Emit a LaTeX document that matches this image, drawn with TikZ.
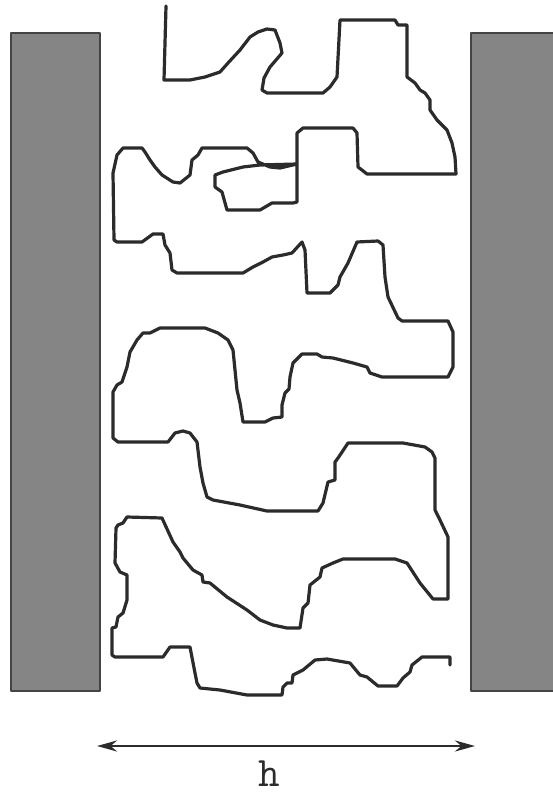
\documentclass[tikz,border=0pt]{standalone}
\usepackage{tikz}
\usetikzlibrary{arrows.meta,positioning}
\definecolor{slitInk}{HTML}{2B2B2B}
\definecolor{slitWall}{HTML}{858585}
\definecolor{slitEdge}{HTML}{444444}
\tikzset{
  slit diagram/.style={x=1pt,y=-1pt, line cap=round, line join=round},
  slit wall/.style={fill=slitWall, draw=slitEdge, line width=1.8pt},
  slit chain/.style={draw=slitInk, line width=3.2pt},
  slit arrow/.style={{Stealth[length=20pt,width=11pt]}-{Stealth[length=20pt,width=11pt]},
    draw=slitInk, line width=2.8pt},
  slit label/.style={font=\fontsize{42}{42}\selectfont\ttfamily, text=slitInk, inner sep=0pt}
}
\begin{document}
\begin{tikzpicture}[slit diagram]
\useasboundingbox (0,0) rectangle (553,800);
% the two walls
\draw[slit wall] (11,33) rectangle (100,691);
\draw[slit wall] (471,33) rectangle (560,691);
% the confined chain
\draw[slit chain] (166,6) -- (164,80) -- (190,80) -- (205,77) -- (220,72) -- (228,63)
  -- (240,50) -- (250,37) -- (258,32) -- (267,29) -- (275,30) -- (280,43) -- (282,53)
  -- (270,67) -- (264,78) -- (262,90) -- (267,93) -- (323,93) -- (330,87) -- (337,77)
  -- (340,20) -- (395,20) -- (398,25) -- (407,25) -- (407,77) -- (415,83) -- (420,90)
  -- (425,93) -- (430,100) -- (430,110) -- (437,120) -- (447,130) -- (452,143)
  -- (455,157) -- (456,174) -- (367,174) -- (358,167) -- (357,133) -- (353,128)
  -- (303,128) -- (297,133) -- (297,202) -- (293,203) -- (272,203) -- (260,210)
  -- (227,210) -- (222,192) -- (215,187) -- (215,175) -- (223,172) -- (243,167)
  -- (260,165) -- (297,164) -- (280,168) -- (270,167) -- (258,162) -- (253,153)
  -- (247,148) -- (202,148) -- (198,155) -- (192,160) -- (190,175) -- (180,183)
  -- (173,182) -- (162,175) -- (155,167) -- (150,160) -- (145,152) -- (142,148)
  -- (123,148) -- (117,155) -- (113,173) -- (114,240) -- (117,242) -- (142,242)
  -- (153,234) -- (163,234) -- (165,245) -- (170,253) -- (172,270) -- (177,273)
  -- (243,273) -- (253,267) -- (263,262) -- (272,257) -- (283,255) -- (292,253)
  -- (302,242) -- (305,250) -- (307,293) -- (330,293) -- (338,285) -- (340,277)
  -- (348,263) -- (357,242) -- (378,241) -- (383,245) -- (385,277) -- (388,297)
  -- (398,318) -- (402,321) -- (448,321) -- (453,332) -- (453,367) -- (448,377)
  -- (382,377) -- (370,373) -- (367,367) -- (353,363) -- (333,358) -- (322,357)
  -- (317,354) -- (302,354) -- (293,363) -- (290,377) -- (289,389) -- (285,393)
  -- (282,405) -- (282,417) -- (273,418) -- (265,422) -- (243,422) -- (240,403)
  -- (237,390) -- (235,370) -- (233,350) -- (228,340) -- (218,333) -- (205,328)
  -- (160,328) -- (150,333) -- (143,333) -- (137,340) -- (130,352) -- (127,367)
  -- (122,382) -- (117,385) -- (113,392) -- (113,438) -- (118,442) -- (168,442)
  -- (175,433) -- (183,431) -- (190,433) -- (197,442) -- (200,467) -- (203,483)
  -- (207,497) -- (213,500) -- (240,505) -- (267,511) -- (318,511) -- (323,503)
  -- (328,482) -- (335,480) -- (335,462) -- (338,458) -- (348,443) -- (403,443)
  -- (425,447) -- (432,452) -- (435,458) -- (435,510) -- (440,520) -- (448,537)
  -- (448,599) -- (433,599) -- (420,583) -- (407,563) -- (395,559) -- (343,559)
  -- (333,563) -- (322,568) -- (320,577) -- (310,585) -- (308,603) -- (303,608)
  -- (300,628) -- (287,628) -- (273,625) -- (260,620) -- (247,610) -- (227,597)
  -- (210,583) -- (203,582) -- (202,575) -- (193,570) -- (183,558) -- (180,552)
  -- (173,542) -- (162,518) -- (127,517) -- (123,523) -- (118,525) -- (116,528)
  -- (115,563) -- (120,572) -- (127,575) -- (127,600) -- (123,613) -- (118,617)
  -- (116,627) -- (112,628) -- (112,655) -- (115,657) -- (163,657) -- (170,647)
  -- (190,647) -- (195,673) -- (197,683) -- (200,688) -- (220,690) -- (247,695)
  -- (282,695) -- (283,687) -- (287,683) -- (292,683) -- (293,675) -- (303,670)
  -- (315,660) -- (327,659) -- (350,663) -- (360,675) -- (367,677) -- (378,686)
  -- (397,686) -- (403,678) -- (410,672) -- (412,665) -- (422,657) -- (450,657)
  -- (450,665);
% slit width
\coordinate (gapL) at (97,746);
\coordinate (gapR) at (475,746);
\draw[slit arrow] (gapL) -- (gapR);
\node[slit label, anchor=base] (gapH) at (269,786) {h};
\end{tikzpicture}
\end{document}
